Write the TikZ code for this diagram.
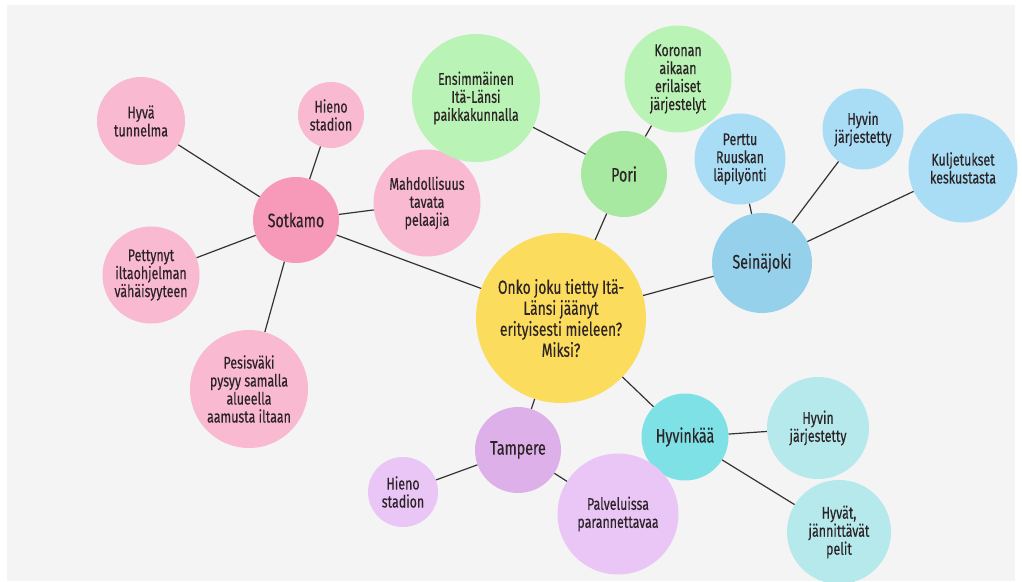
\documentclass[tikz,border=0pt]{standalone}
\usepackage{fontspec}
\setmainfont{Fira Sans}[FakeStretch=0.73,FakeBold=0.3]
\definecolor{bgc}{HTML}{F4F4F4}
\definecolor{txt}{HTML}{2B2326}
\definecolor{lnc}{HTML}{333333}
\definecolor{yel}{HTML}{FCDC5C}
\definecolor{pinkhub}{HTML}{F79AB9}
\definecolor{pinkleaf}{HTML}{F9B9D1}
\definecolor{greenhub}{HTML}{A7E9A1}
\definecolor{greenleaf}{HTML}{B9F3B5}
\definecolor{bluehub}{HTML}{96D1EC}
\definecolor{blueleaf}{HTML}{A8DDF5}
\definecolor{tealhub}{HTML}{7EE1E5}
\definecolor{tealleaf}{HTML}{B5E9EC}
\definecolor{purphub}{HTML}{DDB0E9}
\definecolor{purpleaf}{HTML}{E9C6F5}
\tikzset{
  bub/.style={circle, inner sep=0pt, align=center, text=txt},
  leaf/.style={bub, font=\fontsize{17}{18}\selectfont},
  hub/.style={bub, font=\fontsize{19.5}{20}\selectfont},
  link/.style={draw=lnc, line width=1.2pt}
}
\begin{document}
\begin{tikzpicture}[x=1pt,y=-1pt]
\useasboundingbox (0,0) rectangle (1022,581);
\fill[white] (0,0) rectangle (1022,581);
\fill[bgc] (7,5) rectangle (1015,581);

% center
\node[bub, fill=yel, minimum size=170pt, font=\fontsize{19}{21}\selectfont] (c) at (561,318)
  {Onko joku tietty Itä-\\Länsi jäänyt\\erityisesti mieleen?\\Miksi?};

% Sotkamo
\node[hub, fill=pinkhub, minimum size=86pt] (sot) at (296,220) {Sotkamo};
\node[leaf, fill=pinkleaf, minimum size=88pt] (s1) at (141,121) {Hyvä\\tunnelma};
\node[leaf, fill=pinkleaf, minimum size=66pt] (s2) at (331,115) {Hieno\\stadion};
\node[leaf, fill=pinkleaf, minimum size=107pt] (s3) at (427,203) {Mahdollisuus\\tavata\\pelaajia};
\node[leaf, fill=pinkleaf, minimum size=97pt] (s4) at (151,275) {Pettynyt\\iltaohjelman\\vähäisyyteen};
\node[leaf, fill=pinkleaf, minimum size=118pt] (s5) at (249,389) {Pesisväki\\pysyy samalla\\alueella\\aamusta iltaan};

% Pori
\node[hub, fill=greenhub, minimum size=86pt] (pori) at (624,174) {Pori};
\node[leaf, fill=greenleaf, minimum size=128pt] (p1) at (476,98) {Ensimmäinen\\Itä-Länsi\\paikkakunnalla};
\node[leaf, fill=greenleaf, minimum size=107pt] (p2) at (678,79) {Koronan\\aikaan\\erilaiset\\järjestelyt};

% Seinajoki
\node[hub, fill=bluehub, minimum size=100pt] (sei) at (762,263) {Seinäjoki};
\node[leaf, fill=blueleaf, minimum size=91pt] (b1) at (740,159) {Perttu\\Ruuskan\\läpilyönti};
\node[leaf, fill=blueleaf, minimum size=81pt] (b2) at (863,129) {Hyvin\\järjestetty};
\node[leaf, fill=blueleaf, minimum size=109pt] (b3) at (963,168) {Kuljetukset\\keskustasta};

% Hyvinkaa
\node[hub, fill=tealhub, minimum size=87pt] (hyv) at (685,437) {Hyvinkää};
\node[leaf, fill=tealleaf, minimum size=102pt] (h1) at (818,428) {Hyvin\\järjestetty};
\node[leaf, fill=tealleaf, minimum size=104pt] (h2) at (839,532) {Hyvät,\\jännittävät\\pelit};

% Tampere
\node[hub, fill=purphub, minimum size=86pt] (tam) at (518,450) {Tampere};
\node[leaf, fill=purpleaf, minimum size=70pt] (t1) at (403,492) {Hieno\\stadion};
\node[leaf, fill=purpleaf, minimum size=121pt] (t2) at (618,514) {Palveluissa\\parannettavaa};

% connectors
\draw[link] (c) -- (sot);
\draw[link] (c) -- (pori);
\draw[link] (c) -- (sei);
\draw[link] (c) -- (hyv);
\draw[link] (c) -- (tam);
\draw[link] (sot) -- (s1);
\draw[link] (sot) -- (s2);
\draw[link] (sot) -- (s3);
\draw[link] (sot) -- (s4);
\draw[link] (sot) -- (s5);
\draw[link] (pori) -- (p1);
\draw[link] (pori) -- (p2);
\draw[link] (sei) -- (b1);
\draw[link] (sei) -- (b2);
\draw[link] (sei) -- (b3);
\draw[link] (hyv) -- (h1);
\draw[link] (hyv) -- (h2);
\draw[link] (tam) -- (t1);
\draw[link] (tam) -- (t2);
\end{tikzpicture}
\end{document}
